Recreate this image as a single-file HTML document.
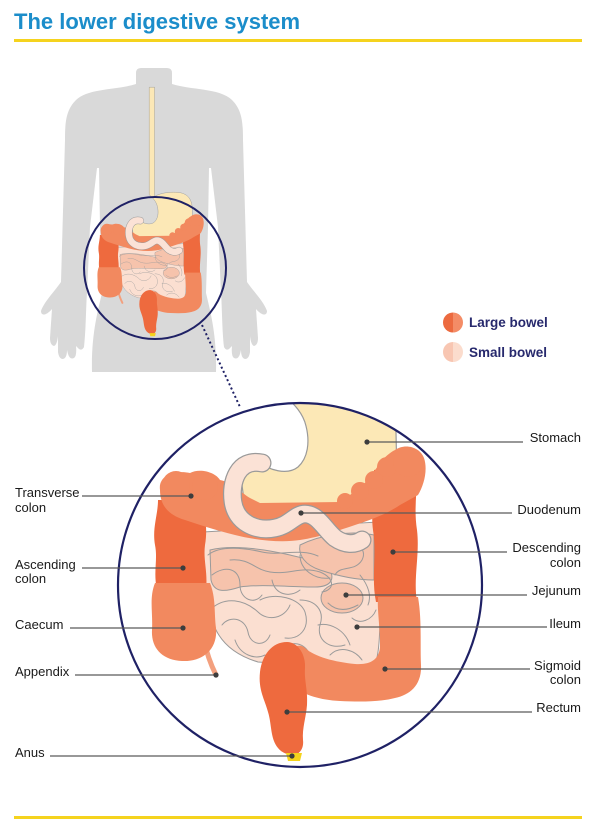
<!DOCTYPE html>
<html>
<head>
<meta charset="utf-8">
<style>
  html,body{margin:0;padding:0;background:#fff;}
  svg{display:block;}
  text{font-family:"Liberation Sans",Arial,sans-serif;}
</style>
</head>
<body>
<svg width="600" height="838" viewBox="0 0 600 838" xmlns="http://www.w3.org/2000/svg">
  <defs>
    <clipPath id="bc"><circle cx="300" cy="585" r="182"/></clipPath>
    <g id="org">
      <!-- esophagus + stomach -->
      <path d="M 285,119 L 285,396 C 294,404 303,413 306,426 C 310,442 308,458 298,467 C 288,475 270,472 252,458 L 240,470 L 245,508 L 385,502 L 397,480 L 396,432 C 395,405 382,392 358,390 C 332,388 308,394 299,401 L 299,119 Z" fill="#fce8b6" stroke="#9a9a9a" stroke-width="1.2"/>
      <!-- small intestine base -->
      <path d="M 203,532 L 378,522 L 380,610 C 380,645 378,662 372,670 L 300,665 L 258,662 C 238,656 224,646 216,630 C 207,612 202,595 203,570 Z" fill="#fbdfd1" stroke="#9a9a9a" stroke-width="1"/>
      <!-- darker jejunum patches -->
      <path d="M 210,550 C 230,545 260,548 290,555 C 310,560 320,560 330,570 C 335,580 330,587 315,587 C 290,587 260,584 240,587 C 225,592 214,593 211,580 Z" fill="#f6c3ac" stroke="#9a9a9a" stroke-width="1"/>
      <path d="M 300,545 C 320,535 350,530 374,535 L 374,580 C 355,580 335,575 320,570 C 305,565 298,555 300,545 Z" fill="#f6c3ac" stroke="#9a9a9a" stroke-width="1"/>
      <ellipse cx="342" cy="598" rx="21" ry="15" fill="#f6c3ac" stroke="#9a9a9a" stroke-width="1"/>
      <g fill="none" stroke="#9a9a9a" stroke-width="1" stroke-linecap="round">
        <path d="M 208,555 C 220,545 245,548 262,552 C 280,556 300,548 318,556"/>
        <path d="M 212,575 C 225,565 240,568 240,585 C 240,600 255,605 262,595"/>
        <path d="M 230,560 C 250,558 255,570 270,572 C 290,575 300,566 320,572 C 335,578 335,590 322,592"/>
        <path d="M 272,580 C 275,595 290,598 300,590"/>
        <path d="M 340,548 C 355,540 368,548 362,560 C 355,572 340,565 335,575"/>
        <path d="M 300,555 C 300,570 315,580 330,578"/>
        <path d="M 210,610 C 225,595 245,600 258,612 C 268,622 285,618 290,605"/>
        <path d="M 222,625 C 230,615 245,618 248,632 C 250,645 265,648 270,635"/>
        <path d="M 260,600 C 275,592 300,598 305,612 C 310,628 300,640 285,638"/>
        <path d="M 300,600 C 315,600 325,610 320,625 C 316,640 330,650 345,645"/>
        <path d="M 328,603 C 335,610 345,612 358,605"/>
        <path d="M 318,625 C 330,622 345,630 350,645"/>
        <path d="M 352,618 C 360,625 372,620 376,610"/>
        <path d="M 330,655 C 340,645 355,650 362,660"/>
        <path d="M 235,640 C 240,655 255,660 265,655"/>
        <path d="M 282,650 C 290,640 305,642 310,655"/>
        <path d="M 360,575 C 368,585 372,595 368,605"/>
      </g>
      <!-- appendix -->
      <path d="M 204,640 C 207,655 212,667 216,675" fill="none" stroke="#f3a07e" stroke-width="5" stroke-linecap="round"/>
      <!-- ascending colon -->
      <path d="M 158,500 L 206,500 C 204,515 208,528 205,545 C 203,560 208,572 206,590 L 157,590 C 153,572 158,560 155,545 C 152,528 158,515 158,500 Z" fill="#ee6a3e"/>
      <!-- caecum -->
      <path d="M 155,583 L 210,583 C 216,598 214,612 216,628 C 218,650 202,662 182,661 C 162,660 151,648 152,630 C 153,612 149,598 155,583 Z" fill="#f2895f"/>
      <!-- descending colon -->
      <path d="M 374,470 L 416,462 C 419,485 413,505 417,530 C 420,555 413,578 417,602 L 376,602 C 371,578 377,555 373,530 C 370,508 377,492 374,470 Z" fill="#ee6a3e"/>
      <!-- transverse colon -->
      <path d="M 160,490 C 158,475 175,470 190,473 C 200,468 215,472 220,480 C 232,482 240,492 250,498 L 260,503 L 340,502 C 350,495 360,488 370,478 C 378,465 385,455 395,450 C 405,443 420,447 424,458 C 428,470 424,485 418,495 L 400,505 C 385,515 370,520 355,525 C 340,530 320,537 300,540 C 280,543 255,540 235,535 C 215,530 200,525 185,520 C 168,515 160,505 160,490 Z" fill="#f2895f"/>
      <g fill="#f2895f">
        <circle cx="345" cy="501" r="8"/>
        <circle cx="360" cy="491" r="9"/>
        <circle cx="374" cy="480" r="9"/>
        <circle cx="387" cy="467" r="10"/>
        <circle cx="176" cy="485" r="14"/>
        <circle cx="205" cy="487" r="13"/>
        <circle cx="408" cy="462" r="15"/>
      </g>
      <!-- duodenum -->
      <path d="M 262,463 C 238,458 230,482 233,502 C 236,522 255,532 275,528 C 290,525 295,514 305,514 C 318,514 325,530 335,538 C 345,545 355,545 362,540" fill="none" stroke="#9a9a9a" stroke-width="19" stroke-linecap="round"/>
      <path d="M 262,463 C 238,458 230,482 233,502 C 236,522 255,532 275,528 C 290,525 295,514 305,514 C 318,514 325,530 335,538 C 345,545 355,545 362,540" fill="none" stroke="#fbe2d6" stroke-width="16.5" stroke-linecap="round"/>
      <!-- sigmoid colon -->
      <path d="M 378,597 L 418,597 C 422,620 420,645 421,665 C 422,685 410,695 395,698 C 380,702 360,702 340,701 C 320,700 305,695 295,688 L 285,660 C 290,648 298,642 305,648 C 315,657 335,662 355,664 C 370,665 380,660 380,645 C 380,625 377,610 378,597 Z" fill="#f2895f"/>
      <!-- rectum -->
      <path d="M 287,642 C 272,642 262,655 260,672 C 258,690 265,700 268,712 C 272,725 270,738 278,748 C 282,753 288,755 294,755 C 300,754 304,748 303,740 C 302,728 306,718 307,705 C 308,690 304,680 305,668 C 306,655 298,642 287,642 Z" fill="#ee6a3e"/>
      <!-- anus -->
      <path d="M 286,753 L 302,753 L 300,761 L 288,761 Z" fill="#f5d31c"/>
    </g>
  </defs>

  <!-- title -->
  <text x="14" y="29" font-size="22" font-weight="bold" fill="#1b8dca">The lower digestive system</text>
  <rect x="14" y="39" width="568" height="3" fill="#f5d31e"/>

  <!-- body silhouette -->
  <path d="M 154,68 L 141,68 Q 136,68 136,73 L 136,84 C 118,90 88,88 76,100 C 66,110 65,122 65,140 L 61,282 C 54,292 44,302 41,311 C 41,316 46,316 52,309 L 50,338 Q 50,345 54,346 Q 57,345 58,336 L 58,352 Q 59,359 63,359 Q 67,358 67,350 L 68,354 Q 70,360 74,358 Q 77,356 76,346 L 79,349 Q 82,351 84,347 C 86,330 86,305 87,293 L 90,227 L 97,168 L 99,168 L 100,227 L 102,293 C 98,310 91,335 92,372 L 216,372 C 217,335 210,310 206,293 L 208,227 L 209,168 L 211,168 L 218,227 L 221,293 C 222,305 222,330 224,347 Q 226,351 229,349 L 232,346 Q 231,356 234,358 Q 238,360 240,354 L 241,350 Q 241,358 245,359 Q 249,359 250,352 L 250,336 Q 251,345 254,346 Q 258,345 258,338 L 256,309 C 262,316 267,316 267,311 C 264,302 254,292 247,282 L 243,140 C 243,122 242,110 232,100 C 220,88 190,90 172,84 L 172,73 Q 172,68 167,68 Z" fill="#d9d9d9"/>

  <!-- small organs -->
  <use href="#org" transform="translate(155,268) scale(0.388) translate(-300,-585)"/>
  <circle cx="155" cy="268" r="71" fill="none" stroke="#1f2165" stroke-width="2"/>

  <!-- dotted connector -->
  <line x1="202" y1="325" x2="240" y2="407" stroke="#1f2165" stroke-width="2" stroke-dasharray="2 2.6"/>

  <!-- big organs -->
  <g clip-path="url(#bc)"><use href="#org"/></g>
  <circle cx="300" cy="585" r="182" fill="none" stroke="#1f2165" stroke-width="2.2"/>

  <!-- legend -->
  <path d="M 453,312.5 A 10 10 0 0 0 453,332.5 Z" fill="#ec6a3f"/>
  <path d="M 453,312.5 A 10 10 0 0 1 453,332.5 Z" fill="#f48c66"/>
  <path d="M 453,342 A 10 10 0 0 0 453,362 Z" fill="#f8c6b2"/>
  <path d="M 453,342 A 10 10 0 0 1 453,362 Z" fill="#fbdccd"/>
  <text x="469" y="327" font-size="13.5" font-weight="bold" fill="#27296d">Large bowel</text>
  <text x="469" y="357" font-size="13.5" font-weight="bold" fill="#27296d">Small bowel</text>

  <!-- leader lines -->
  <g stroke="#5a5a5a" stroke-width="1.2">
    <line x1="82" y1="496" x2="191" y2="496"/>
    <line x1="82" y1="568" x2="183" y2="568"/>
    <line x1="70" y1="628" x2="183" y2="628"/>
    <line x1="75" y1="675" x2="216" y2="675"/>
    <line x1="50" y1="756" x2="292" y2="756"/>
    <line x1="367" y1="442" x2="523" y2="442"/>
    <line x1="301" y1="513" x2="512" y2="513"/>
    <line x1="393" y1="552" x2="507" y2="552"/>
    <line x1="346" y1="595" x2="527" y2="595"/>
    <line x1="357" y1="627" x2="547" y2="627"/>
    <line x1="385" y1="669" x2="530" y2="669"/>
    <line x1="287" y1="712" x2="532" y2="712"/>
  </g>
  <g fill="#3d3d3d">
    <circle cx="191" cy="496" r="2.6"/>
    <circle cx="183" cy="568" r="2.6"/>
    <circle cx="183" cy="628" r="2.6"/>
    <circle cx="216" cy="675" r="2.6"/>
    <circle cx="292" cy="756" r="2.6"/>
    <circle cx="367" cy="442" r="2.6"/>
    <circle cx="301" cy="513" r="2.6"/>
    <circle cx="393" cy="552" r="2.6"/>
    <circle cx="346" cy="595" r="2.6"/>
    <circle cx="357" cy="627" r="2.6"/>
    <circle cx="385" cy="669" r="2.6"/>
    <circle cx="287" cy="712" r="2.6"/>
  </g>

  <!-- labels -->
  <g font-size="13" fill="#1a1a1a">
    <text x="15" y="497">Transverse</text>
    <text x="15" y="512">colon</text>
    <text x="15" y="569">Ascending</text>
    <text x="15" y="583">colon</text>
    <text x="15" y="629">Caecum</text>
    <text x="15" y="676">Appendix</text>
    <text x="15" y="757">Anus</text>
  </g>
  <g font-size="13" fill="#1a1a1a" text-anchor="end">
    <text x="581" y="442">Stomach</text>
    <text x="581" y="514">Duodenum</text>
    <text x="581" y="552">Descending</text>
    <text x="581" y="567">colon</text>
    <text x="581" y="595">Jejunum</text>
    <text x="581" y="628">Ileum</text>
    <text x="581" y="670">Sigmoid</text>
    <text x="581" y="684">colon</text>
    <text x="581" y="712">Rectum</text>
  </g>

  <!-- bottom line -->
  <rect x="14" y="816" width="568" height="3" fill="#f5d31e"/>
</svg>
</body>
</html>
